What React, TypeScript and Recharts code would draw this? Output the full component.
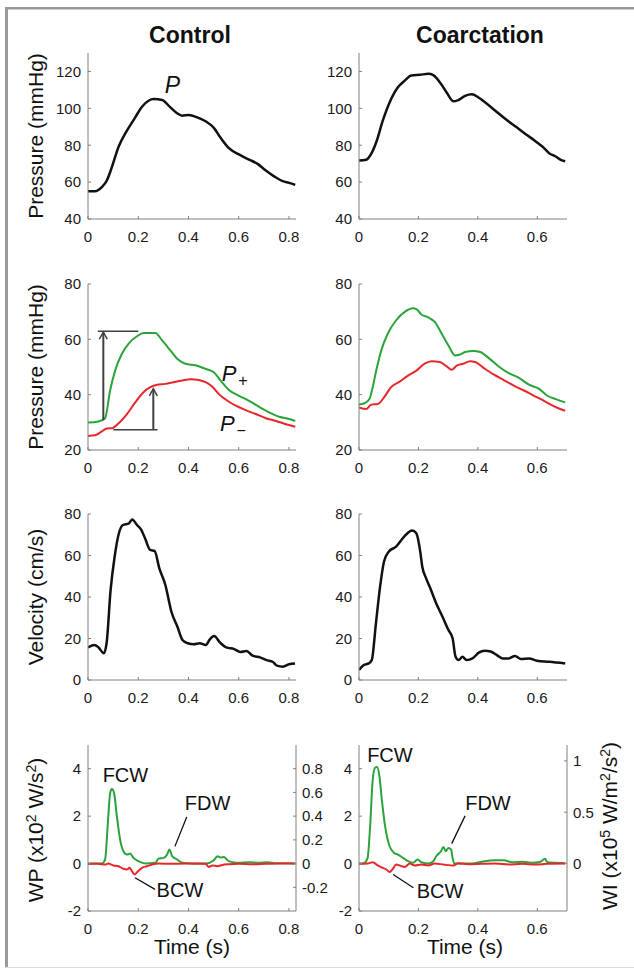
import React from 'react';
import { LineChart, Line, XAxis, YAxis, ReferenceLine, ReferenceDot } from 'recharts';

const FONT = '"Liberation Sans", Arial, Helvetica, sans-serif';
const GREEN = '#2aa33b';
const RED = '#e8262b';
const INK = '#111111';
const AXIS = '#808080';
const ARROW = '#404040';

// ---- Control: pressure P (mmHg) ----
const ctrlPT = [0, 0.028, 0.055, 0.075, 0.095, 0.121, 0.155, 0.188, 0.215, 0.241, 0.261, 0.295, 0.328, 0.355, 0.375, 0.401, 0.435, 0.468, 0.501, 0.528, 0.561, 0.601, 0.641, 0.675, 0.708, 0.741, 0.775, 0.801, 0.825];
const ctrlP = [55.1, 55.1, 57.3, 60.9, 68.1, 78.9, 87.9, 95.1, 100.9, 104.1, 105.0, 104.5, 100.5, 97.3, 96.0, 96.4, 95.1, 93.0, 89.4, 84.0, 78.4, 75.0, 72.2, 69.9, 66.3, 63.1, 60.5, 59.6, 58.5];

// ---- Coarctation: pressure P ----
const coarPT = [0, 0.024, 0.041, 0.058, 0.080, 0.103, 0.131, 0.154, 0.176, 0.205, 0.233, 0.250, 0.272, 0.295, 0.318, 0.334, 0.357, 0.380, 0.402, 0.425, 0.459, 0.493, 0.527, 0.560, 0.594, 0.617, 0.640, 0.662, 0.679, 0.694];
const coarP = [71.7, 72.1, 75.3, 81.6, 93.3, 103.2, 111.4, 115.0, 117.8, 118.2, 118.7, 118.0, 114.1, 108.6, 103.8, 104.5, 106.8, 107.6, 105.9, 103.2, 98.7, 94.2, 90.1, 86.1, 82.2, 79.3, 75.7, 73.9, 72.1, 71.3];

// ---- Control: forward P+ and backward P- ----
const ctrlFwdT = [0, 0.041, 0.068, 0.088, 0.108, 0.135, 0.161, 0.195, 0.221, 0.268, 0.295, 0.328, 0.355, 0.388, 0.428, 0.468, 0.501, 0.528, 0.561, 0.601, 0.641, 0.681, 0.721, 0.761, 0.801, 0.825];
const ctrlFwd = [29.9, 30.3, 31.5, 41.5, 48.7, 54.8, 58.4, 61.1, 62.3, 62.3, 59.6, 56.0, 53.0, 51.2, 50.6, 49.3, 48.1, 45.1, 41.7, 39.6, 37.8, 35.6, 33.6, 32.0, 31.2, 30.5];
const ctrlBwdT = [0, 0.028, 0.055, 0.075, 0.095, 0.121, 0.155, 0.188, 0.221, 0.248, 0.275, 0.308, 0.341, 0.375, 0.408, 0.441, 0.468, 0.495, 0.521, 0.555, 0.588, 0.628, 0.668, 0.708, 0.748, 0.788, 0.825];
const ctrlBwd = [25.1, 25.3, 26.7, 27.8, 27.9, 29.6, 33.0, 37.2, 40.9, 42.7, 43.6, 43.9, 44.5, 45.1, 45.6, 45.3, 44.5, 42.9, 40.2, 37.8, 36.0, 34.4, 33.0, 31.5, 30.5, 29.3, 28.4];

// ---- Coarctation: P+ and P- ----
const coarFwdT = [0, 0.018, 0.035, 0.046, 0.058, 0.075, 0.097, 0.125, 0.154, 0.182, 0.193, 0.210, 0.233, 0.255, 0.278, 0.301, 0.323, 0.340, 0.357, 0.385, 0.408, 0.436, 0.470, 0.504, 0.538, 0.572, 0.606, 0.634, 0.662, 0.694];
const coarFwd = [36.4, 36.9, 38.4, 42.7, 48.7, 56.0, 62.1, 66.9, 69.9, 71.2, 70.9, 69.0, 67.9, 66.3, 62.1, 57.8, 54.2, 54.5, 55.4, 55.8, 55.4, 53.3, 50.2, 47.8, 46.1, 43.6, 42.1, 39.6, 38.4, 37.2];
const coarBwdT = [0, 0.024, 0.041, 0.063, 0.086, 0.108, 0.137, 0.165, 0.193, 0.221, 0.244, 0.272, 0.295, 0.312, 0.329, 0.351, 0.374, 0.391, 0.419, 0.453, 0.487, 0.521, 0.555, 0.589, 0.617, 0.645, 0.673, 0.694];
const coarBwd = [35.4, 34.8, 36.4, 36.6, 39.3, 42.7, 44.7, 46.9, 48.7, 51.2, 52.1, 51.8, 50.2, 49.0, 50.5, 51.2, 52.1, 51.8, 49.7, 47.3, 45.3, 43.3, 41.5, 39.6, 38.1, 36.4, 35.0, 34.2];

// ---- Velocity (cm/s) ----
const ctrlUT = [0, 0.026, 0.042, 0.063, 0.074, 0.090, 0.106, 0.123, 0.139, 0.163, 0.176, 0.195, 0.211, 0.227, 0.247, 0.265, 0.284, 0.308, 0.332, 0.356, 0.376, 0.397, 0.421, 0.445, 0.469, 0.485, 0.502, 0.526, 0.550, 0.582, 0.606, 0.631, 0.655, 0.687, 0.711, 0.735, 0.752, 0.776, 0.800, 0.824];
const ctrlU = [15.7, 16.9, 15.7, 12.9, 17.7, 43.4, 59.4, 70.7, 74.7, 75.5, 77.4, 74.7, 72.6, 68.3, 62.7, 62.2, 53.8, 45.8, 32.9, 25.7, 19.3, 17.7, 17.2, 17.7, 16.9, 19.6, 21.2, 18.0, 15.7, 14.9, 13.5, 14.0, 11.7, 10.8, 9.6, 8.8, 6.9, 6.4, 7.6, 8.0];
const coarUT = [0, 0.016, 0.033, 0.043, 0.057, 0.071, 0.084, 0.100, 0.125, 0.152, 0.179, 0.193, 0.206, 0.213, 0.226, 0.240, 0.260, 0.281, 0.301, 0.315, 0.325, 0.335, 0.348, 0.362, 0.382, 0.403, 0.423, 0.443, 0.464, 0.484, 0.504, 0.525, 0.545, 0.572, 0.599, 0.640, 0.694];
const coarU = [4.8, 7.2, 8.0, 9.6, 27.3, 45.0, 57.0, 61.8, 64.3, 69.1, 72.0, 70.7, 62.0, 54.6, 49.0, 44.2, 36.9, 30.5, 24.1, 20.1, 11.2, 9.6, 11.2, 9.6, 10.4, 13.2, 14.1, 13.7, 12.0, 10.4, 10.4, 11.6, 10.1, 10.4, 9.3, 8.8, 8.0];

// ---- Wave power (x10^2 W/s^2) ----
const ctrlFwT = [0, 0.055, 0.068, 0.079, 0.088, 0.095, 0.104, 0.115, 0.128, 0.141, 0.155, 0.168, 0.181, 0.201, 0.228, 0.268, 0.281, 0.301, 0.315, 0.324, 0.335, 0.355, 0.375, 0.415, 0.468, 0.501, 0.515, 0.528, 0.541, 0.555, 0.575, 0.601, 0.641, 0.681, 0.715, 0.748, 0.788, 0.825];
const ctrlFw = [0, 0, 0.17, 1.70, 2.96, 3.14, 2.96, 1.98, 1.00, 0.52, 0.38, 0.42, 0.24, 0.10, 0, 0.03, 0.21, 0.24, 0.38, 0.59, 0.31, 0.17, 0.03, 0, 0, 0.14, 0.31, 0.26, 0.28, 0.14, 0.06, 0.03, 0.06, 0.03, 0.06, 0.01, 0.01, 0];
const ctrlBwT = [0, 0.041, 0.068, 0.081, 0.101, 0.121, 0.141, 0.155, 0.165, 0.175, 0.185, 0.199, 0.215, 0.235, 0.255, 0.281, 0.335, 0.388, 0.468, 0.481, 0.495, 0.515, 0.535, 0.561, 0.601, 0.655, 0.708, 0.761, 0.825];
const ctrlBw = [-0.01, -0.01, -0.04, 0, -0.08, -0.11, -0.22, -0.25, -0.18, -0.32, -0.46, -0.32, -0.18, -0.11, -0.04, 0, -0.01, 0, -0.01, -0.14, -0.08, -0.11, -0.06, -0.03, -0.01, -0.03, -0.01, 0, 0];
const coarFwT = [0, 0.018, 0.029, 0.038, 0.046, 0.054, 0.061, 0.069, 0.077, 0.088, 0.103, 0.118, 0.131, 0.148, 0.165, 0.182, 0.197, 0.210, 0.233, 0.250, 0.261, 0.276, 0.284, 0.292, 0.301, 0.310, 0.315, 0.321, 0.346, 0.380, 0.414, 0.459, 0.487, 0.515, 0.549, 0.583, 0.611, 0.626, 0.634, 0.662, 0.694];
const coarFw = [0, 0.03, 0.24, 1.70, 3.51, 4.04, 4.07, 3.65, 2.68, 1.56, 0.73, 0.45, 0.38, 0.24, 0.10, 0.03, 0.17, 0.06, 0, 0.10, 0.33, 0.52, 0.70, 0.52, 0.66, 0.59, 0.24, 0, 0, 0, 0.08, 0.14, 0.14, 0.06, 0.08, 0.03, 0.08, 0.20, 0.06, 0.03, 0.01];
const coarBwT = [0, 0.029, 0.046, 0.063, 0.080, 0.092, 0.103, 0.114, 0.125, 0.137, 0.154, 0.171, 0.188, 0.210, 0.233, 0.255, 0.284, 0.318, 0.334, 0.368, 0.414, 0.459, 0.504, 0.549, 0.594, 0.634, 0.694];
const coarBw = [-0.01, 0, 0.06, -0.08, -0.18, -0.25, -0.36, -0.22, -0.04, -0.08, -0.14, 0, -0.08, -0.04, -0.08, 0, -0.04, -0.08, 0.01, -0.03, -0.01, 0, -0.04, -0.01, -0.04, -0.01, 0];

const ctrlTicks = [0, 0.2, 0.4, 0.6, 0.8];
const coarTicks = [0, 0.2, 0.4, 0.6];

const rows = (t: number[], v: number[]) => t.map((x, i) => ({ t: x, v: v[i] }));

// plot geometry
const PW = 208;
const PH = 166;
const LW = 80;
const TOP = 10;
const XH = 40;
const COL = [88, 359];
const ROW = [53, 284, 514, 745];

type Series = { data: { t: number; v: number }[]; color: string; width: number };
type PanelProps = {
  x0: number;
  y0: number;
  xMax: number;
  xTicks: number[];
  yDomain: [number, number];
  yTicks: number[];
  series: Series[];
  right?: { domain: [number, number]; ticks: number[] };
  children?: React.ReactNode;
};

const tickStyle = { fill: '#1a1a1a', fontSize: 15, fontFamily: FONT };

function Panel({ x0, y0, xMax, xTicks, yDomain, yTicks, series, right, children }: PanelProps) {
  const RW = right ? 50 : 0;
  return (
    <div style={{ position: 'absolute', left: x0 - LW, top: y0 - TOP }}>
      <LineChart
        width={LW + PW + RW + 4}
        height={TOP + PH + XH}
        margin={{ top: TOP, right: 4, bottom: 0, left: 0 }}
      >
        <XAxis
          type="number"
          dataKey="t"
          domain={[0, xMax]}
          ticks={xTicks}
          interval={0}
          allowDataOverflow
          height={XH}
          stroke={AXIS}
          tickSize={-3}
          tickMargin={15}
          tick={tickStyle}
        />
        <YAxis
          type="number"
          domain={yDomain}
          ticks={yTicks}
          interval={0}
          allowDataOverflow
          width={LW}
          stroke={AXIS}
          tickSize={-3}
          tickMargin={10}
          tick={tickStyle}
        />
        {right && (
          <YAxis
            yAxisId="r"
            orientation="right"
            type="number"
            domain={right.domain}
            ticks={right.ticks}
            interval={0}
            allowDataOverflow
            width={RW}
            stroke={AXIS}
            tickSize={-3}
            tickMargin={9}
            tick={tickStyle}
          />
        )}
        {series.map((s, i) => (
          <Line
            key={i}
            data={s.data}
            dataKey="v"
            type="monotone"
            stroke={s.color}
            strokeWidth={s.width}
            dot={false}
            isAnimationActive={false}
          />
        ))}
        {children}
      </LineChart>
    </div>
  );
}

const tag =
  (content: React.ReactNode, anchor: 'start' | 'middle' | 'end' = 'middle', size = 20, italic = false) =>
  (p: any) =>
    (
      <text
        x={p.cx}
        y={p.cy}
        textAnchor={anchor}
        fontSize={size}
        fontStyle={italic ? 'italic' : 'normal'}
        fontFamily={FONT}
        fill={INK}
      >
        {content}
      </text>
    );

const arrowHead = (p: any) => (
  <path
    d={`M${p.cx - 4},${p.cy + 7}L${p.cx},${p.cy}L${p.cx + 4},${p.cy + 7}`}
    fill="none"
    stroke={ARROW}
    strokeWidth={1.5}
  />
);

const sub = (s: string) => (
  <>
    <tspan>P</tspan>
    <tspan fontSize={16} fontStyle="normal" dx={2} dy={5}>
      {s}
    </tspan>
  </>
);

export default function App() {
  const rot = (x: number, y: number) => `translate(${x},${y}) rotate(-90)`;
  const labelProps = { fontSize: 21, fontFamily: FONT, fill: INK, textAnchor: 'middle' as const };
  return (
    <div
      style={{
        position: 'absolute',
        left: 0,
        top: 0,
        width: 634,
        height: 975,
        background: '#ffffff',
        fontFamily: FONT,
      }}
    >
      {/* row 1: pressure */}
      <Panel x0={COL[0]} y0={ROW[0]} xMax={0.828} xTicks={ctrlTicks} yDomain={[40, 130]} yTicks={[40, 60, 80, 100, 120]}
        series={[{ data: rows(ctrlPT, ctrlP), color: INK, width: 2.5 }]}>
        <ReferenceDot x={0.306} y={108.3} shape={tag('P', 'start', 23, true)} />
      </Panel>
      <Panel x0={COL[1]} y0={ROW[0]} xMax={0.7} xTicks={coarTicks} yDomain={[40, 130]} yTicks={[40, 60, 80, 100, 120]}
        series={[{ data: rows(coarPT, coarP), color: INK, width: 2.5 }]} />

      {/* row 2: separated pressure */}
      <Panel x0={COL[0]} y0={ROW[1]} xMax={0.828} xTicks={ctrlTicks} yDomain={[20, 80]} yTicks={[20, 40, 60, 80]}
        series={[
          { data: rows(ctrlFwdT, ctrlFwd), color: GREEN, width: 2 },
          { data: rows(ctrlBwdT, ctrlBwd), color: RED, width: 2 },
        ]}>
        <ReferenceLine segment={[{ x: 0.039, y: 62.9 }, { x: 0.2, y: 62.9 }]} stroke={ARROW} strokeWidth={1.5} />
        <ReferenceLine segment={[{ x: 0.061, y: 30.8 }, { x: 0.061, y: 62.6 }]} stroke={ARROW} strokeWidth={2} />
        <ReferenceDot x={0.061} y={62.6} shape={arrowHead} />
        <ReferenceLine segment={[{ x: 0.101, y: 27.3 }, { x: 0.277, y: 27.3 }]} stroke={ARROW} strokeWidth={1.5} />
        <ReferenceLine segment={[{ x: 0.26, y: 27.3 }, { x: 0.26, y: 42.1 }]} stroke={ARROW} strokeWidth={2} />
        <ReferenceDot x={0.26} y={42.1} shape={arrowHead} />
        <ReferenceDot x={0.532} y={45.1} shape={tag(sub('+'), 'start', 22, true)} />
        <ReferenceDot x={0.525} y={26.9} shape={tag(sub('\u2212'), 'start', 22, true)} />
      </Panel>
      <Panel x0={COL[1]} y0={ROW[1]} xMax={0.7} xTicks={coarTicks} yDomain={[20, 80]} yTicks={[20, 40, 60, 80]}
        series={[
          { data: rows(coarFwdT, coarFwd), color: GREEN, width: 2 },
          { data: rows(coarBwdT, coarBwd), color: RED, width: 2 },
        ]} />

      {/* row 3: velocity */}
      <Panel x0={COL[0]} y0={ROW[2]} xMax={0.828} xTicks={ctrlTicks} yDomain={[0, 80]} yTicks={[0, 20, 40, 60, 80]}
        series={[{ data: rows(ctrlUT, ctrlU), color: INK, width: 2.5 }]} />
      <Panel x0={COL[1]} y0={ROW[2]} xMax={0.7} xTicks={coarTicks} yDomain={[0, 80]} yTicks={[0, 20, 40, 60, 80]}
        series={[{ data: rows(coarUT, coarU), color: INK, width: 2.5 }]} />

      {/* row 4: wave power / intensity */}
      <Panel x0={COL[0]} y0={ROW[3]} xMax={0.828} xTicks={ctrlTicks} yDomain={[-2, 5]} yTicks={[-2, 0, 2, 4]}
        right={{ domain: [-0.4, 1.0], ticks: [-0.2, 0, 0.2, 0.4, 0.6, 0.8] }}
        series={[
          { data: rows(ctrlFwT, ctrlFw), color: GREEN, width: 2 },
          { data: rows(ctrlBwT, ctrlBw), color: RED, width: 2 },
        ]}>
        <ReferenceDot x={0.149} y={3.44} shape={tag('FCW')} />
        <ReferenceDot x={0.476} y={2.26} shape={tag('FDW')} />
        <ReferenceLine segment={[{ x: 0.393, y: 1.96 }, { x: 0.346, y: 0.725 }]} stroke={INK} strokeWidth={1.3} />
        <ReferenceDot x={0.366} y={-1.43} shape={tag('BCW')} />
        <ReferenceLine segment={[{ x: 0.187, y: -0.6 }, { x: 0.267, y: -1.09 }]} stroke={INK} strokeWidth={1.3} />
      </Panel>
      <Panel x0={COL[1]} y0={ROW[3]} xMax={0.7} xTicks={coarTicks} yDomain={[-2, 5]} yTicks={[-2, 0, 2, 4]}
        right={{ domain: [-0.463, 1.155], ticks: [0, 0.5, 1] }}
        series={[
          { data: rows(coarFwT, coarFw), color: GREEN, width: 2 },
          { data: rows(coarBwT, coarBw), color: RED, width: 2 },
        ]}>
        <ReferenceDot x={0.104} y={4.28} shape={tag('FCW')} />
        <ReferenceDot x={0.434} y={2.26} shape={tag('FDW')} />
        <ReferenceLine segment={[{ x: 0.357, y: 2.01 }, { x: 0.312, y: 0.84 }]} stroke={INK} strokeWidth={1.3} />
        <ReferenceDot x={0.273} y={-1.47} shape={tag('BCW')} />
        <ReferenceLine segment={[{ x: 0.115, y: -0.46 }, { x: 0.183, y: -1.02 }]} stroke={INK} strokeWidth={1.3} />
      </Panel>

      {/* frame, titles and axis labels */}
      <svg width={634} height={975} style={{ position: 'absolute', left: 0, top: 0, pointerEvents: 'none' }}>
        <rect x={5} y={7} width={3} height={961} fill="#9a9a9a" />
        <rect x={5} y={7} width={629} height={2.5} fill="#9a9a9a" />
        <rect x={5} y={967} width={629} height={1} fill="#dddddd" />

        <text x={190} y={43} fontSize={23} fontWeight="bold" fontFamily={FONT} textAnchor="middle" fill={INK}>Control</text>
        <text x={480} y={43} fontSize={23} fontWeight="bold" fontFamily={FONT} textAnchor="middle" fill={INK}>Coarctation</text>

        <text transform={rot(43, 136)} {...labelProps}>Pressure (mmHg)</text>
        <text transform={rot(43, 367)} {...labelProps}>Pressure (mmHg)</text>
        <text transform={rot(43, 597)} {...labelProps}>Velocity (cm/s)</text>
        <text transform={rot(43, 830)} {...labelProps}>
          WP (x10<tspan dy={-7} fontSize={14}>2</tspan>
          <tspan dy={7}> W/s</tspan>
          <tspan dy={-7} fontSize={14}>2</tspan>
          <tspan dy={7}>)</tspan>
        </text>
        <text transform={rot(617, 826)} {...labelProps}>
          WI (x10<tspan dy={-7} fontSize={14}>5</tspan>
          <tspan dy={7}> W/m</tspan>
          <tspan dy={-7} fontSize={14}>2</tspan>
          <tspan dy={7}>/s</tspan>
          <tspan dy={-7} fontSize={14}>2</tspan>
          <tspan dy={7}>)</tspan>
        </text>

        <text x={192} y={954} {...labelProps}>Time (s)</text>
        <text x={465} y={954} {...labelProps}>Time (s)</text>
      </svg>
    </div>
  );
}
